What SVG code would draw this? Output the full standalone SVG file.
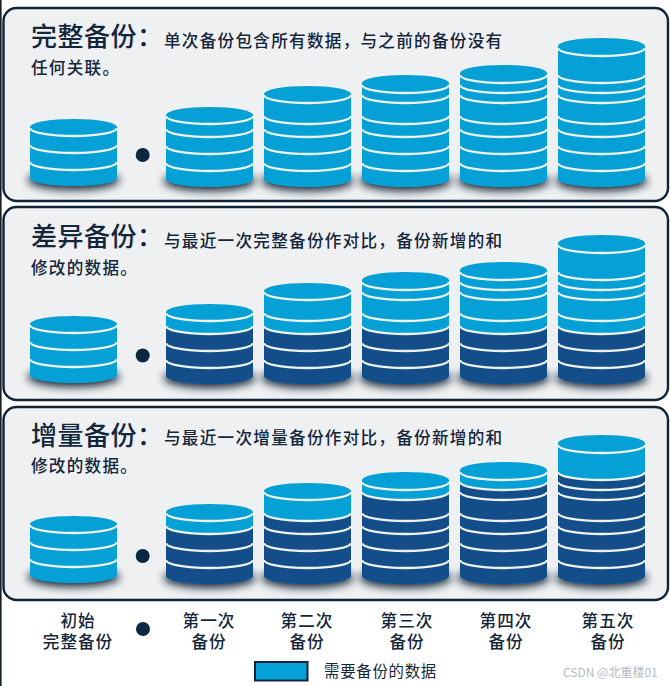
<svg xmlns="http://www.w3.org/2000/svg" width="670" height="686" viewBox="0 0 670 686">
<style>
text{font-family:"Noto Sans CJK SC","Noto Sans",sans-serif;fill:#14263a}
.panel{fill:#eef0f2;stroke:#0f2438;stroke-width:2.4}
.title{font-size:26px;font-weight:500;letter-spacing:.5px}
.sub{font-size:16.6px;font-weight:500;letter-spacing:1.27px}
.cap{font-size:16.6px;font-weight:500;letter-spacing:1px;text-anchor:middle}
.arc{fill:none;stroke:#eef3ea;stroke-width:2.3}
.lt{fill:#05a0d6}
.dk{fill:#134e8a}
.dot{fill:#0c2840}
.sh{fill:#101c2a;opacity:.95;filter:url(#b)}
</style>
<defs>
<filter id="b" x="-20%" y="-100%" width="140%" height="300%"><feGaussianBlur stdDeviation="4.500"/></filter>
<ellipse id="s0" class="sh" cx="43.5" cy="180" rx="46" ry="10"/>
<ellipse id="s" class="sh" cx="43.5" cy="181" rx="46" ry="10"/>
<path id="b0" d="M0 127a43.5 8 0 0 1 87 0V178a43.5 8 0 0 1-87 0Z"/>
<path id="b1" d="M0 115a43.5 8 0 0 1 87 0V179a43.5 8 0 0 1-87 0Z"/>
<path id="b2" d="M0 94a43.5 8 0 0 1 87 0V179a43.5 8 0 0 1-87 0Z"/>
<path id="b3" d="M0 83a43.5 8 0 0 1 87 0V179a43.5 8 0 0 1-87 0Z"/>
<path id="b4" d="M0 73a43.5 8 0 0 1 87 0V179a43.5 8 0 0 1-87 0Z"/>
<path id="b5" d="M0 46a43.5 8 0 0 1 87 0V179a43.5 8 0 0 1-87 0Z"/>
<path id="d129" d="M0 129a43.5 8 0 0 0 87 0V179a43.5 8 0 0 1-87 0Z"/>
<path id="d116" d="M0 116a43.5 8 0 0 0 87 0V179a43.5 8 0 0 1-87 0Z"/>
<path id="d95" d="M0 95a43.5 8 0 0 0 87 0V179a43.5 8 0 0 1-87 0Z"/>
<path id="d85" d="M0 85a43.5 8 0 0 0 87 0V179a43.5 8 0 0 1-87 0Z"/>
<path id="d75" d="M0 75a43.5 8 0 0 0 87 0V179a43.5 8 0 0 1-87 0Z"/>
<path id="a0" class="arc" d="M0 128a43.5 8 0 0 0 87 0M0 145a43.5 8 0 0 0 87 0M0 162a43.5 8 0 0 0 87 0"/>
<path id="a1" class="arc" d="M0 116a43.5 8 0 0 0 87 0M0 129a43.5 8 0 0 0 87 0M0 146a43.5 8 0 0 0 87 0M0 163a43.5 8 0 0 0 87 0"/>
<path id="a2" class="arc" d="M0 95a43.5 8 0 0 0 87 0M0 116a43.5 8 0 0 0 87 0M0 129a43.5 8 0 0 0 87 0M0 146a43.5 8 0 0 0 87 0M0 163a43.5 8 0 0 0 87 0"/>
<path id="a3" class="arc" d="M0 85a43.5 8 0 0 0 87 0M0 95a43.5 8 0 0 0 87 0M0 116a43.5 8 0 0 0 87 0M0 129a43.5 8 0 0 0 87 0M0 146a43.5 8 0 0 0 87 0M0 163a43.5 8 0 0 0 87 0"/>
<path id="a4" class="arc" d="M0 75a43.5 8 0 0 0 87 0M0 85a43.5 8 0 0 0 87 0M0 95a43.5 8 0 0 0 87 0M0 116a43.5 8 0 0 0 87 0M0 129a43.5 8 0 0 0 87 0M0 146a43.5 8 0 0 0 87 0M0 163a43.5 8 0 0 0 87 0"/>
<path id="a5" class="arc" d="M0 48a43.5 8 0 0 0 87 0M0 75a43.5 8 0 0 0 87 0M0 85a43.5 8 0 0 0 87 0M0 95a43.5 8 0 0 0 87 0M0 116a43.5 8 0 0 0 87 0M0 129a43.5 8 0 0 0 87 0M0 146a43.5 8 0 0 0 87 0M0 163a43.5 8 0 0 0 87 0"/>
</defs>
<rect width="670" height="686" fill="#fff"/>
<rect id="edge" x="0" y="0" width="1.6" height="686" fill="#1a1f24"/>

<g id="panel-full">
<rect class="panel" x="3.5" y="8" width="664.5" height="193" rx="13"/>
<text class="title" x="31" y="46">完整备份：</text>
<text class="sub" x="164" y="47">单次备份包含所有数据，与之前的备份没有</text>
<text class="sub" x="31" y="74">任何关联。</text>
<circle class="dot" cx="142.7" cy="155" r="7"/>
<g class="lt">
<use href="#s0" x="30"/><use href="#b0" x="30"/><use href="#a0" x="30"/>
<use href="#s" x="166"/><use href="#b1" x="166"/><use href="#a1" x="166"/>
<use href="#s" x="264"/><use href="#b2" x="264"/><use href="#a2" x="264"/>
<use href="#s" x="362"/><use href="#b3" x="362"/><use href="#a3" x="362"/>
<use href="#s" x="460"/><use href="#b4" x="460"/><use href="#a4" x="460"/>
<use href="#s" x="558"/><use href="#b5" x="558"/><use href="#a5" x="558"/>
</g>
</g>

<g id="panel-diff">
<rect class="panel" x="3.5" y="207" width="664.5" height="193" rx="13"/>
<text class="title" x="31" y="246">差异备份：</text>
<text class="sub" x="164" y="247">与最近一次完整备份作对比，备份新增的和</text>
<text class="sub" x="31" y="274">修改的数据。</text>
<circle class="dot" cx="142.7" cy="355.5" r="7"/>
<g class="lt" transform="translate(0 197)">
<use href="#s0" x="30"/><use href="#b0" x="30"/><use href="#a0" x="30"/>
<use href="#s" x="166"/><use href="#b1" x="166"/><use href="#d129" x="166" class="dk"/><use href="#a1" x="166"/>
<use href="#s" x="264"/><use href="#b2" x="264"/><use href="#d129" x="264" class="dk"/><use href="#a2" x="264"/>
<use href="#s" x="362"/><use href="#b3" x="362"/><use href="#d129" x="362" class="dk"/><use href="#a3" x="362"/>
<use href="#s" x="460"/><use href="#b4" x="460"/><use href="#d129" x="460" class="dk"/><use href="#a4" x="460"/>
<use href="#s" x="558"/><use href="#b5" x="558"/><use href="#d129" x="558" class="dk"/><use href="#a5" x="558"/>
</g>
</g>

<g id="panel-incr">
<rect class="panel" x="3.5" y="407" width="664.5" height="193" rx="13"/>
<text class="title" x="31" y="445">增量备份：</text>
<text class="sub" x="164" y="444">与最近一次增量备份作对比，备份新增的和</text>
<text class="sub" x="31" y="472">修改的数据。</text>
<circle class="dot" cx="142.7" cy="556" r="7"/>
<g class="lt" transform="translate(0 397)">
<use href="#s0" x="30"/><use href="#b0" x="30"/><use href="#a0" x="30"/>
<use href="#s" x="166"/><use href="#b1" x="166"/><use href="#d129" x="166" class="dk"/><use href="#a1" x="166"/>
<use href="#s" x="264"/><use href="#b2" x="264"/><use href="#d116" x="264" class="dk"/><use href="#a2" x="264"/>
<use href="#s" x="362"/><use href="#b3" x="362"/><use href="#d95" x="362" class="dk"/><use href="#a3" x="362"/>
<use href="#s" x="460"/><use href="#b4" x="460"/><use href="#d85" x="460" class="dk"/><use href="#a4" x="460"/>
<use href="#s" x="558"/><use href="#b5" x="558"/><use href="#d75" x="558" class="dk"/><use href="#a5" x="558"/>
</g>
</g>

<g id="axis">
<text class="cap" y="627"><tspan x="78">初始</tspan><tspan x="78" dy="21">完整备份</tspan></text>
<circle class="dot" cx="143" cy="629" r="7"/>
<text class="cap" y="627"><tspan x="209">第一次</tspan><tspan x="209" dy="21">备份</tspan></text>
<text class="cap" y="627"><tspan x="307">第二次</tspan><tspan x="307" dy="21">备份</tspan></text>
<text class="cap" y="627"><tspan x="407">第三次</tspan><tspan x="407" dy="21">备份</tspan></text>
<text class="cap" y="627"><tspan x="506">第四次</tspan><tspan x="506" dy="21">备份</tspan></text>
<text class="cap" y="627"><tspan x="608">第五次</tspan><tspan x="608" dy="21">备份</tspan></text>
</g>
<g id="legend">
<rect x="255" y="662" width="52.500" height="18.500" fill="#05a0d6" stroke="#0f2438" stroke-width="2"/>
<text x="324" y="677" font-size="15.400" letter-spacing=".75">需要备份的数据</text>
</g>
<text id="watermark" x="563" y="677" font-size="12" style="fill:#b4bbc2">CSDN @北重楼01</text>
</svg>
